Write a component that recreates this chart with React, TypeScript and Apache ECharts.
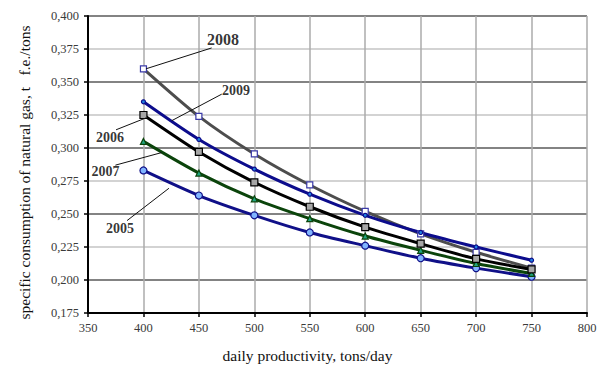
import React, { useEffect, useRef } from "react";
import * as echarts from "echarts";

const productivity = [400, 450, 500, 550, 600, 650, 700, 750];
const y2005 = [0.283, 0.264, 0.249, 0.236, 0.226, 0.2165, 0.209, 0.2025];
const y2006 = [0.325, 0.297, 0.274, 0.2555, 0.24, 0.2275, 0.216, 0.208];
const y2007 = [0.305, 0.281, 0.2615, 0.2465, 0.2333, 0.2225, 0.2125, 0.205];
const y2008 = [0.36, 0.324, 0.2955, 0.272, 0.252, 0.235, 0.221, 0.209];
const y2009 = [0.335, 0.3065, 0.284, 0.265, 0.249, 0.236, 0.225, 0.215];

const labelNames = ["2008", "2009", "2006", "2007", "2005"];
const labelSizes = [16, 14, 14, 14, 14];
const labelAt = [
  [471.7, 0.382],
  [483.5, 0.3438],
  [369.8, 0.3078],
  [365.8, 0.2819],
  [378.9, 0.2388],
];
const leaderFrom = [
  [402.3, 0.36],
  [425.5, 0.3207],
  [402.3, 0.3228],
  [416.3, 0.2965],
  [423.0, 0.2695],
];
const leaderTo = [
  [461.5, 0.3758],
  [470.6, 0.3408],
  [375.3, 0.3138],
  [374.7, 0.287],
  [385.2, 0.245],
];

const SERIF = "Liberation Serif";

const pairs = (ys: number[]) => productivity.map((x, i) => [x, ys[i]]);

export default function App() {
  const ref = useRef<HTMLDivElement>(null);
  useEffect(() => {
    if (!ref.current) return;
    const chart = echarts.init(ref.current, undefined, { renderer: "svg" });
    const lineBase = (name: string, ys: number[], color: string, symbol: string, size: number, fill: string, border: string) => ({
      name,
      type: "line",
      data: pairs(ys),
      smooth: 0.25,
      symbol,
      symbolSize: size,
      showAllSymbol: true,
      lineStyle: { color, width: 3 },
      itemStyle: { color: fill, borderColor: border, borderWidth: 1.2 },
      z: 3,
    });
    chart.setOption({
      animation: false,
      textStyle: { fontFamily: SERIF },
      grid: { left: 88, right: 15, top: 16, bottom: 52, containLabel: false },
      xAxis: {
        type: "value",
        min: 350,
        max: 800,
        interval: 50,
        name: "daily productivity, tons/day",
        nameLocation: "middle",
        nameGap: 34,
        nameTextStyle: { fontFamily: SERIF, fontSize: 15.5, color: "#111", padding: [0, 60, 0, 0] },
        axisLine: { show: true, onZero: false, lineStyle: { color: "#000", width: 2 } },
        axisTick: { show: true, length: 4, lineStyle: { color: "#000", width: 1.5 } },
        axisLabel: { fontFamily: SERIF, fontSize: 12.5, color: "#3a3a3a", margin: 8 },
        splitLine: { show: true, lineStyle: { color: "#ababab", width: 1.5 } },
      },
      yAxis: {
        type: "value",
        min: 0.175,
        max: 0.4,
        interval: 0.025,
        name: "specific consumption of natural gas, t   f.e./tons",
        nameLocation: "middle",
        nameGap: 56,
        nameTextStyle: { fontFamily: SERIF, fontSize: 15.5, color: "#111", padding: [0, 16, 0, 0] },
        axisLine: { show: true, lineStyle: { color: "#000", width: 2 } },
        axisTick: { show: true, length: 4, lineStyle: { color: "#000", width: 1.5 } },
        axisLabel: {
          fontFamily: SERIF,
          fontSize: 12.5,
          color: "#3a3a3a",
          margin: 9,
          formatter: (v: number) => v.toFixed(3).replace(".", ","),
        },
        splitLine: { show: true, lineStyle: { color: ["#c4c4c4", "#5a5a5a"], width: 1.5 } },
      },
      series: [
        lineBase("2008", y2008, "#4d4d4d", "rect", 6, "#ffffff", "#3a3aa8"),
        lineBase("2005", y2005, "#101088", "circle", 7, "#80b4ff", "#101088"),
        lineBase("2007", y2007, "#0b440b", "triangle", 6, "#1fa57f", "#0b440b"),
        lineBase("2006", y2006, "#000000", "rect", 7, "#a6a6a6", "#000000"),
        lineBase("2009", y2009, "#0c0c8c", "circle", 4, "#1e7fe0", "#0c0c8c"),
        {
          name: "labels",
          type: "scatter",
          data: labelAt.map((p, i) => ({
            value: p,
            label: { fontSize: labelSizes[i] },
            name: labelNames[i],
          })),
          symbolSize: 1,
          itemStyle: { color: "transparent" },
          silent: true,
          z: 5,
          label: {
            show: true,
            position: "inside",
            formatter: (p: any) => p.name,
            fontFamily: SERIF,
            fontWeight: "bold",
            color: "#000",
          },
          markLine: {
            silent: true,
            symbol: ["none", "none"],
            animation: false,
            label: { show: false },
            lineStyle: { color: "#111", width: 1, type: "solid" },
            data: leaderFrom.map((f, i) => [{ coord: f }, { coord: leaderTo[i] }]),
          },
        },
      ],
    });
    return () => chart.dispose();
  }, []);
  return (
    <div
      ref={ref}
      style={{ position: "fixed", left: 0, top: 0, width: 602, height: 368, background: "#fff" }}
    />
  );
}
